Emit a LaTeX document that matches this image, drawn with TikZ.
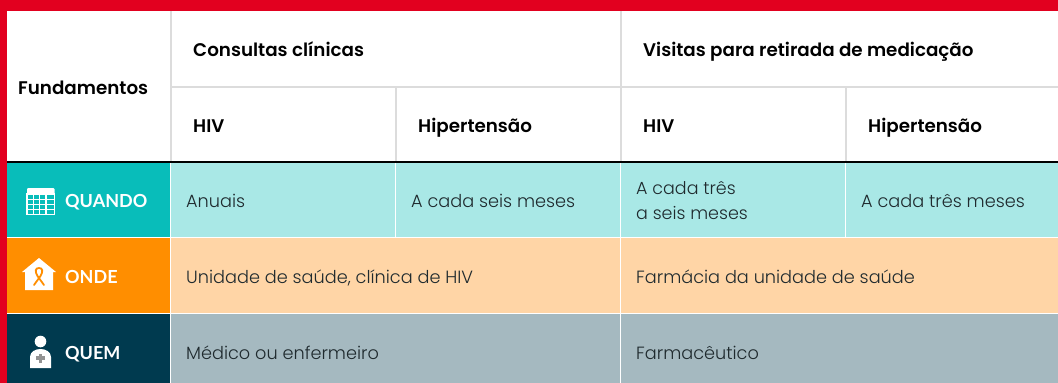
\documentclass[tikz,border=0pt]{standalone}
\usepackage{fontspec}
\setmainfont{Poppins}
\newfontfamily\hfont{Poppins SemiBold}
\newfontfamily\bfont{Poppins Light}
\newfontfamily\lfont{Lato}[BoldFont={Lato Bold}]
\definecolor{redb}{HTML}{E2001F}
\definecolor{teal1}{HTML}{08BDBA}
\definecolor{teal2}{HTML}{A9E8E6}
\definecolor{or1}{HTML}{FF8E00}
\definecolor{or2}{HTML}{FFD5A6}
\definecolor{nv1}{HTML}{003A4F}
\definecolor{nv2}{HTML}{A5B9C0}
\definecolor{gl}{HTML}{DCDCDC}
\definecolor{txt}{HTML}{1F2A2E}
\tikzset{
 head/.style={anchor=base west,inner sep=0pt,text=black,font=\hfont\fontsize{18.3}{22}\selectfont},
 body/.style={anchor=base west,inner sep=0pt,text=txt,font=\bfont\fontsize{17.7}{24}\selectfont},
 bodyml/.style={anchor=west,inner sep=0pt,text=txt,font=\bfont\fontsize{17.5}{25}\selectfont,align=left},
 rowlab/.style={anchor=base west,inner sep=0pt,text=white,font=\lfont\bfseries\fontsize{18}{20}\selectfont},
 gline/.style={draw=gl,line width=2pt},
 wline/.style={draw=white,line width=1.6pt}
}
\begin{document}
\begin{tikzpicture}[x=1pt,y=-1pt]
\useasboundingbox (0,0) rectangle (1058,383);
\fill[white] (0,0) rectangle (1058,383);
% row fills
\fill[teal2] (171,163) rectangle (1058,238);
\fill[or2] (171,238) rectangle (1058,314);
\fill[nv2] (171,314) rectangle (1058,383);
\fill[teal1] (7,163) rectangle (170,237);
\fill[or1] (7,238) rectangle (170,313);
\fill[nv1] (7,314) rectangle (170,383);
% grid
\draw[wline] (170.5,163) -- (170.5,383);
\draw[wline] (620.5,163) -- (620.5,383);
\draw[wline] (395.5,163) -- (395.5,237);
\draw[wline] (845.5,163) -- (845.5,237);
\draw[wline] (171,237.5) -- (1058,237.5);
\draw[wline] (7,313.5) -- (1058,313.5);
\draw[gline] (170.5,11) -- (170.5,161);
\draw[gline] (620.5,11) -- (620.5,161);
\draw[gline] (395.5,87) -- (395.5,161);
\draw[gline] (845.5,87) -- (845.5,161);
\draw[gline] (171,86.5) -- (1058,86.5);
\draw[black,line width=2pt] (7,162) -- (1058,162);
% red frame
\fill[redb] (0,0) rectangle (1058,11);
\fill[redb] (0,0) rectangle (7,383);
% header text
\node[head] (fund) at (18,94) {Fundamentos};
\node[head] (cons) at (193,56) {Consultas clínicas};
\node[head] (vis) at (643,56) {Visitas para retirada de medicação};
\node[head] (h1) at (193,132) {HIV};
\node[head] (h2) at (418,132) {Hipertensão};
\node[head] (h3) at (643,132) {HIV};
\node[head] (h4) at (868,132) {Hipertensão};
% row labels
\node[rowlab] (quando) at (65,207) {QUANDO};
\node[rowlab] (onde) at (65,283) {ONDE};
\node[rowlab] (quem) at (65,359) {QUEM};
% body
\node[body] (a1) at (186,207) {Anuais};
\node[body] (a2) at (411,207) {A cada seis meses};
\node[bodyml] (a3) at (636,200.5) {A cada três\\a seis meses};
\node[body] (a4) at (861,207) {A cada três meses};
\node[body] (b1) at (186,283) {Unidade de saúde, clínica de HIV};
\node[body] (b2) at (636,283) {Farmácia da unidade de saúde};
\node[body] (c1) at (186,359) {Médico ou enfermeiro};
\node[body] (c2) at (636,359) {Farmacêutico};
% calendar icon
\fill[white,rounded corners=1pt] (27,188) rectangle (54.5,194);
\draw[white,line width=1.1pt] (27,194) rectangle (54.5,214.5);
\foreach \x in {33.2,39.6,46} {\draw[white,line width=1.1pt] (\x,194) -- (\x,214.5);}
\draw[white,line width=1.1pt] (27,199.5) -- (54.5,199.5);
\draw[white,line width=1.1pt] (27,204.5) -- (54.5,204.5);
\draw[white,line width=1.1pt] (27,209.5) -- (54.5,209.5);
% house icon
\fill[white] (22,272) -- (39,258) -- (56,272) -- (53,272) -- (53,290) -- (25,290) -- (25,272) -- cycle;
\draw[or1,line width=1.8pt,line cap=round] (34,285) -- (40.5,276) .. controls (43.5,271) and (42.5,268) .. (39,268) .. controls (35.5,268) and (34.5,271) .. (37.5,276) -- (44,285);
% person icon
\fill[white] (40.5,341.5) circle (5.8);
\fill[white] (30,368) -- (30,357) .. controls (30,352) and (35,349) .. (40.5,349) .. controls (46,349) and (51,352) .. (51,357) -- (51,368) -- cycle;
\fill[gray!85] (38.8,353.5) rectangle (42.2,362.5);
\fill[gray!85] (36,356.3) rectangle (45,359.7);
\end{tikzpicture}
\end{document}
